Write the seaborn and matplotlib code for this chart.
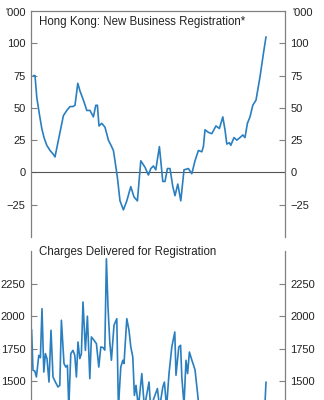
import matplotlib
matplotlib.use("Agg")
import matplotlib.pyplot as plt
import seaborn as sns
import pandas as pd
from matplotlib.transforms import offset_copy

sns.set_theme(style="white")
plt.rcParams["font.family"] = ["Liberation Sans", "DejaVu Sans"]

# New business registrations, thousands (year-on-year change)
reg_time = [2000.12, 2000.20, 2000.29, 2000.42, 2000.54, 2000.65, 2000.79, 2000.95,
            2001.12, 2001.20, 2001.37, 2001.62, 2001.79, 2001.95, 2002.09, 2002.20,
            2002.34, 2002.45, 2002.62, 2002.79, 2002.95, 2003.12, 2003.24, 2003.32,
            2003.40, 2003.54, 2003.70, 2003.87, 2004.00, 2004.12, 2004.20, 2004.32,
            2004.45, 2004.62, 2004.79, 2004.99, 2005.15, 2005.32, 2005.49, 2005.70,
            2005.87, 2005.99, 2006.12, 2006.24, 2006.42, 2006.59, 2006.70, 2006.82,
            2006.95, 2007.09, 2007.20, 2007.34, 2007.49, 2007.65, 2007.87, 2008.04,
            2008.20, 2008.37, 2008.54, 2008.62, 2008.70, 2008.87, 2009.04, 2009.25,
            2009.42, 2009.59, 2009.70, 2009.79, 2009.92, 2009.99, 2010.15, 2010.29,
            2010.45, 2010.59, 2010.70, 2010.82, 2010.95, 2011.09, 2011.25, 2011.45,
            2011.62, 2011.75]
reg_value = [75, 75, 58, 45, 34, 27, 21, 17,
             14, 12, 25, 44, 48, 51, 51, 52,
             69, 63, 56, 48, 48, 43, 52, 52,
             36, 38, 35, 25, 21, 17, 9, -4,
             -22, -29, -22, -11, -19, -22, 9, 4,
             -2, 3, 5, 2, 20, -7, -7, 3,
             3, -11, -18, -9, -22, 2, 3, -1,
             9, 17, 16, 20, 33, 31, 30, 36,
             34, 43, 33, 22, 23, 21, 27, 25,
             27, 29, 27, 38, 43, 52, 56, 74,
             92, 105]

# Charges delivered for registration
chg_time = [2000.03, 2000.10, 2000.19, 2000.27, 2000.39, 2000.47, 2000.55, 2000.64,
            2000.72, 2000.80, 2000.90, 2001.00, 2001.10, 2001.22, 2001.35, 2001.44,
            2001.52, 2001.65, 2001.74, 2001.82, 2001.89, 2001.99, 2002.10, 2002.19,
            2002.27, 2002.35, 2002.44, 2002.52, 2002.60, 2002.72, 2002.82, 2002.94,
            2003.02, 2003.15, 2003.27, 2003.39, 2003.49, 2003.60, 2003.69, 2003.77,
            2003.85, 2003.94, 2004.02, 2004.15, 2004.29, 2004.37, 2004.49, 2004.59,
            2004.65, 2004.79, 2004.90, 2004.99, 2005.09, 2005.17, 2005.25, 2005.37,
            2005.54, 2005.67, 2005.90, 2005.98, 2006.32, 2006.43, 2006.59, 2006.67,
            2006.78, 2006.90, 2007.04, 2007.19, 2007.25, 2007.39, 2007.48, 2007.54,
            2007.65, 2007.75, 2007.83, 2007.92, 2008.05, 2008.20, 2008.32, 2008.40,
            2008.55, 2008.75, 2008.95, 2009.15, 2009.35, 2009.55, 2009.75, 2009.95,
            2010.15, 2010.35, 2010.55, 2010.75, 2010.95, 2011.15, 2011.35, 2011.55,
            2011.69, 2011.75]
chg_value = [1897, 1585, 1580, 1534, 1700, 1682, 2058, 1572,
             1713, 1675, 1495, 1892, 1534, 1495, 1457, 1470,
             1969, 1637, 1610, 1623, 1300, 1713, 1738, 1700,
             1534, 1802, 1675, 1713, 2109, 1738, 2000, 1521,
             1841, 1815, 1790, 1610, 1764, 1760, 1740, 2440,
             2071, 1800, 1662, 1930, 1981, 1300, 1610, 1662,
             1637, 1981, 1892, 1764, 1687, 1393, 1470, 1300,
             1560, 1300, 1495, 1300, 1445, 1300, 1457, 1495,
             1300, 1560, 1764, 1879, 1547, 1764, 1777, 1534,
             1320, 1662, 1560, 1725, 1660, 1590, 1420, 1300,
             1240, 1280, 1200, 1260, 1180, 1230, 1150, 1210,
             1170, 1250, 1190, 1220, 1160, 1240, 1180, 1230,
             1300, 1495]

reg_ticks = [-25, 0, 25, 50, 75, 100]
chg_ticks = [1500, 1750, 2000, 2250]

LINE = "#2a7fc0"
SPINE = "#808080"
TXT = "#222222"
FS = 8

W, H = 324, 400
fig = plt.figure(figsize=(W / 100, H / 100), dpi=100)

left, right = 31 / W, 285 / W
ax1 = fig.add_axes([left, 1 - 237 / H, right - left, (237 - 11) / H])
ax2 = fig.add_axes([left, 1 - 251 / H - 195.6 / H, right - left, 195.6 / H])

reg = pd.DataFrame({"t": reg_time, "v": reg_value})
chg = pd.DataFrame({"t": chg_time, "v": chg_value})

sns.lineplot(data=reg, x="t", y="v", ax=ax1, color=LINE, lw=1.2)
sns.lineplot(data=chg, x="t", y="v", ax=ax2, color=LINE, lw=1.2)
ax1.axhline(0, color="#555555", lw=0.8, zorder=1)

for ax, lims, ticks in ((ax1, (-50, 125), reg_ticks), (ax2, (1000, 2500), chg_ticks)):
    ax.set_xlim(2000.0, 2012.7)
    ax.set_ylim(*lims)
    ax.set_xticks([])
    ax.set_yticks(ticks)
    ax.set_xlabel("")
    ax.set_ylabel("")
    ax.tick_params(axis="y", direction="in", length=4, width=0.8, color=SPINE,
                   labelsize=FS, labelcolor=TXT, left=True, right=True,
                   labelleft=True, labelright=True, pad=4)
    for s in ("left", "right"):
        ax.spines[s].set_visible(True)
        ax.spines[s].set_color(SPINE)
        ax.spines[s].set_linewidth(0.9)
    ax.spines["bottom"].set_visible(False)
    ax.set_facecolor("none")

ax1.spines["top"].set_visible(True)
ax1.spines["top"].set_color(SPINE)
ax1.spines["top"].set_linewidth(0.9)
ax2.spines["top"].set_visible(False)

# Unit labels beside the top of each axis
unit_tr = offset_copy(ax1.transAxes, fig=fig, x=0, y=-1.5, units="points")
ax1.text(-0.02, 1.0, "'000", transform=unit_tr, ha="right", va="center",
         fontsize=FS, color=TXT)
ax1.text(1.03, 1.0, "'000", transform=unit_tr, ha="left", va="center",
         fontsize=FS, color=TXT)

ax1.text(0.03, 0.95, "Hong Kong: New Business Registration*", transform=ax1.transAxes,
         ha="left", va="center", fontsize=FS + 0.3, color=TXT)
ax2.text(0.03, 0.997, "Charges Delivered for Registration", transform=ax2.transAxes,
         ha="left", va="center", fontsize=FS + 0.3, color=TXT)

fig.savefig("out.png", dpi=100)
